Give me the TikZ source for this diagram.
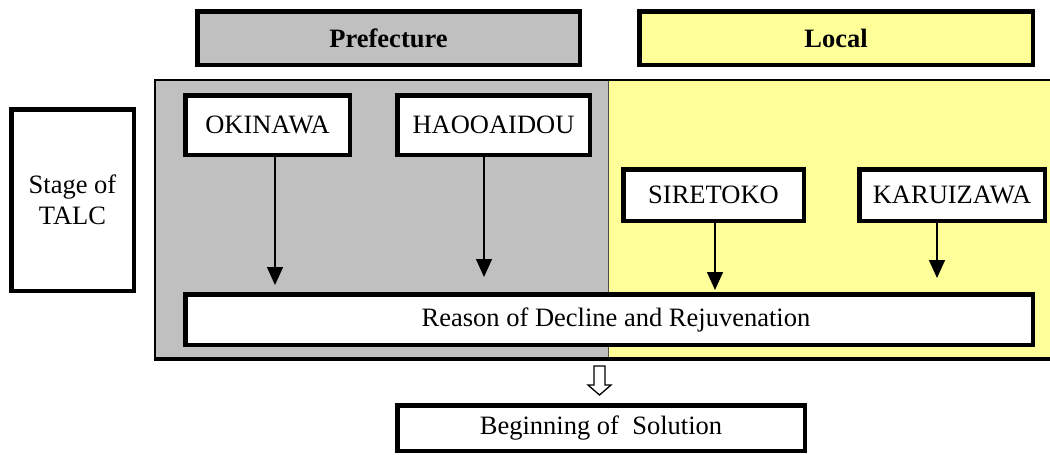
\documentclass[tikz,border=0pt]{standalone}
\usepackage{fontspec}
\setmainfont{Liberation Serif}
\newfontfamily\tnr{Liberation Serif}
\usetikzlibrary{arrows.meta,calc,positioning}
\definecolor{prefgray}{HTML}{C0C0C0}
\definecolor{locyel}{HTML}{FFFF99}
\tikzset{
  sqbox/.style = { draw, line width=4.5pt, fill=white, inner sep=0pt,
    font=\tnr\fontsize{26.5}{31}\selectfont },
  hdr/.style   = { sqbox, font=\tnr\fontsize{26.5}{31}\selectfont\bfseries },
  arr/.style   = { line width=1.5pt, -{Triangle[width=16pt,length=18pt]} }
}
\begin{document}
\begin{tikzpicture}[x=1pt,y=-1pt]
  \useasboundingbox (0,0) rectangle (1050,455);
  % headers
  \node[hdr, fill=prefgray, minimum width=382.5pt, minimum height=53.5pt] (hpref) at (388.5,38) {Prefecture};
  \node[hdr, fill=locyel, minimum width=393.5pt, minimum height=53.5pt] (hloc) at (836,38) {Local};
  % panel
  \fill[prefgray] (155,79) rectangle (608,360);
  \fill[locyel] (608,79) rectangle (1050,360);
  \draw[line width=1pt, black!70] (608,80) -- (608,358);
  \draw[line width=2pt] (1050,80) -- (155,80) -- (155,359);
  \draw[line width=4pt] (154,359) -- (1050,359);
  % boxes
  \node[sqbox, align=center, minimum width=122.5pt, minimum height=181.5pt] (stage) at (72.5,200) {Stage of\\TALC};
  \node[sqbox, minimum width=164.5pt, minimum height=59.5pt] (oki) at (267.5,125) {OKINAWA};
  \node[sqbox, minimum width=192.5pt, minimum height=59.5pt] (hao) at (493.5,125) {HAOOAIDOU};
  \node[sqbox, minimum width=180.5pt, minimum height=51.5pt] (sir) at (713.5,195) {SIRETOKO};
  \node[sqbox, minimum width=185.5pt, minimum height=51.5pt] (kar) at (952,195) {KARUIZAWA};
  \node[sqbox, minimum width=847.5pt, minimum height=50.5pt] (reason) at (609,319.5) {\hspace*{14pt}Reason of Decline and Rejuvenation};
  \node[sqbox, minimum width=407.5pt, minimum height=45.5pt] (sol) at (601,428) {Beginning of\ \ Solution};
  % arrows
  \draw[arr, shorten >=7pt] ($(oki.south)+(7.5,0)$) -- ($(oki.south |- reason.north)+(7.5,0)$);
  \draw[arr, shorten >=15pt] ($(hao.south)+(-9.5,0)$) -- ($(hao.south |- reason.north)+(-9.5,0)$);
  \draw[arr, shorten >=2pt] ($(sir.south)+(1.5,0)$) -- ($(sir.south |- reason.north)+(1.5,0)$);
  \draw[arr, shorten >=14pt] ($(kar.south)+(-15,0)$) -- ($(kar.south |- reason.north)+(-15,0)$);
  % hollow arrow
  \coordinate (dn) at (599.5,366);
  \draw[line width=1.3pt, fill=white] (dn) ++(-5.5,0) -- ++(11,0) -- ++(0,19) -- ++(6,0)
    -- ++(-11.5,10) -- ++(-11.5,-10) -- ++(6,0) -- cycle;
\end{tikzpicture}
\end{document}
